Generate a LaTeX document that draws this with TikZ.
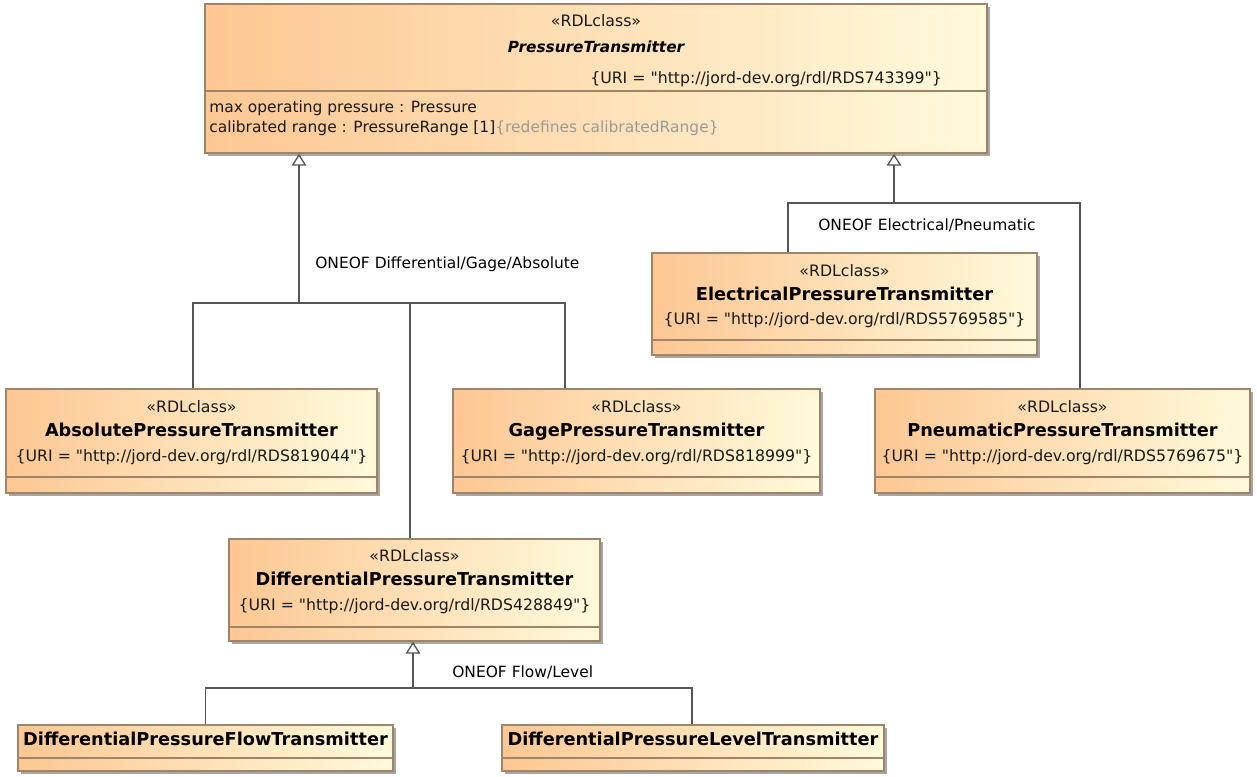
\documentclass[tikz,border=0pt]{standalone}
\usepackage{fontspec}
\setmainfont{DejaVu Sans}[Ligatures=TeXOff]
\usetikzlibrary{arrows.meta,shadows,fit}
\definecolor{cls-left}{HTML}{FDC793}
\definecolor{cls-right}{HTML}{FFFADB}
\definecolor{cls-border}{HTML}{9E8468}
\definecolor{link-gray}{HTML}{555555}
\definecolor{note-gray}{HTML}{9A9A9A}

\begin{document}
\begin{tikzpicture}[x=0.75pt, y=-0.75pt,
    umlclass/.style={rectangle, draw=cls-border, line width=1pt, inner sep=0pt,
      left color=cls-left, right color=cls-right,
      drop shadow={shadow xshift=2.5pt, shadow yshift=-2.5pt, fill=black!35, opacity=1}},
    stereo/.style={font=\fontsize{11.8}{14}\selectfont, text=black!90, inner sep=0pt,
      text height=8.6pt, text depth=2.6pt},
    clsname/.style={font=\fontsize{13.3}{15}\selectfont\bfseries, inner sep=0pt,
      text height=9.8pt, text depth=3pt},
    uri/.style={stereo},
    attr/.style={font=\fontsize{11.6}{14}\selectfont, text=black!90, inner sep=0pt, anchor=west,
      text height=8.6pt, text depth=2.6pt},
    divider/.style={draw=cls-border, line width=1pt},
    conn/.style={draw=link-gray, line width=1pt},
    gen/.style={conn, -{Triangle[open, length=9pt, width=11pt]}},
    oneof/.style={attr, text=black}]
  \useasboundingbox (0,0) rectangle (1257,776);

  % top class
  \node[umlclass, fit={(205,4) (987,153)}] (pt) {};
  \node[stereo] (pt-st) at (596,22) {«RDLclass»};
  \node[clsname, font=\fontsize{11.5}{14}\selectfont\bfseries\itshape] (pt-nm) at (596,48) {PressureTransmitter};
  \node[uri, anchor=west] (pt-uri) at (590,79) {\{URI = "http://jord-dev.org/rdl/RDS743399"\}};
  \draw[divider] (pt.west |- 0,91) -- (pt.east |- 0,91);
  \node[attr] (pt-a1) at (209,108) {max operating pressure : Pressure};
  \node[attr] (pt-a2) at (209,128) {calibrated range : PressureRange [1]\textcolor{note-gray}{\{redefines calibratedRange\}}};

  % second level
  \node[umlclass, fit={(6,389) (377,493)}] (abs) {};
  \node[stereo] (abs-st) at (191.5,408) {«RDLclass»};
  \node[clsname] (abs-nm) at (191.5,432) {AbsolutePressureTransmitter};
  \node[uri] (abs-uri) at (191.5,457) {\{URI = "http://jord-dev.org/rdl/RDS819044"\}};
  \draw[divider] (abs.west |- 0,477) -- (abs.east |- 0,477);

  \node[umlclass, fit={(453,389) (820,493)}] (gage) {};
  \node[stereo] (gage-st) at (636.5,408) {«RDLclass»};
  \node[clsname] (gage-nm) at (636.5,432) {GagePressureTransmitter};
  \node[uri] (gage-uri) at (636.5,457) {\{URI = "http://jord-dev.org/rdl/RDS818999"\}};
  \draw[divider] (gage.west |- 0,477) -- (gage.east |- 0,477);

  \node[umlclass, fit={(229,539) (600,641)}] (diff) {};
  \node[stereo] (diff-st) at (414.5,557) {«RDLclass»};
  \node[clsname] (diff-nm) at (414.5,581) {DifferentialPressureTransmitter};
  \node[uri] (diff-uri) at (414.5,606) {\{URI = "http://jord-dev.org/rdl/RDS428849"\}};
  \draw[divider] (diff.west |- 0,627) -- (diff.east |- 0,627);

  \node[umlclass, fit={(652,253) (1037,355)}] (elec) {};
  \node[stereo] (elec-st) at (844.5,272) {«RDLclass»};
  \node[clsname] (elec-nm) at (844.5,296) {ElectricalPressureTransmitter};
  \node[uri] (elec-uri) at (844.5,320) {\{URI = "http://jord-dev.org/rdl/RDS5769585"\}};
  \draw[divider] (elec.west |- 0,340) -- (elec.east |- 0,340);

  \node[umlclass, fit={(875,389) (1250,493)}] (pneu) {};
  \node[stereo] (pneu-st) at (1062.5,408) {«RDLclass»};
  \node[clsname] (pneu-nm) at (1062.5,432) {PneumaticPressureTransmitter};
  \node[uri] (pneu-uri) at (1062.5,457) {\{URI = "http://jord-dev.org/rdl/RDS5769675"\}};
  \draw[divider] (pneu.west |- 0,477) -- (pneu.east |- 0,477);

  % third level
  \node[umlclass, fit={(18,725) (393,771)}] (flow) {};
  \node[clsname] (flow-nm) at (205.5,741) {DifferentialPressureFlowTransmitter};
  \draw[divider] (flow.west |- 0,758) -- (flow.east |- 0,758);

  \node[umlclass, fit={(502,725) (884,771)}] (level) {};
  \node[clsname] (level-nm) at (693,741) {DifferentialPressureLevelTransmitter};
  \draw[divider] (level.west |- 0,758) -- (level.east |- 0,758);

  % generalizations
  \coordinate (bus1) at (299,303);
  \draw[gen] (bus1) -- (bus1 |- pt.south);
  \draw[conn] (abs.north -| 193,0) |- (bus1);
  \draw[conn] (gage.north -| 565,0) |- (bus1);
  \draw[conn] (diff.north -| 410,0) -- (bus1 -| 410,0);
  \node[oneof] (lbl1) at (315,264) {ONEOF Differential/Gage/Absolute};

  \coordinate (bus2) at (894,203);
  \draw[gen] (bus2) -- (bus2 |- pt.south);
  \draw[conn] (elec.north -| 788,0) |- (bus2);
  \draw[conn] (pneu.north -| 1080,0) |- (bus2);
  \node[oneof] (lbl2) at (818,226) {ONEOF Electrical/Pneumatic};

  \coordinate (bus3) at (413,688);
  \draw[gen] (bus3) -- (bus3 |- diff.south);
  \draw[conn] (flow.north) |- (bus3);
  \draw[conn] (level.north -| 692,0) |- (bus3);
  \node[oneof] (lbl3) at (452,673) {ONEOF Flow/Level};
\end{tikzpicture}
\end{document}
